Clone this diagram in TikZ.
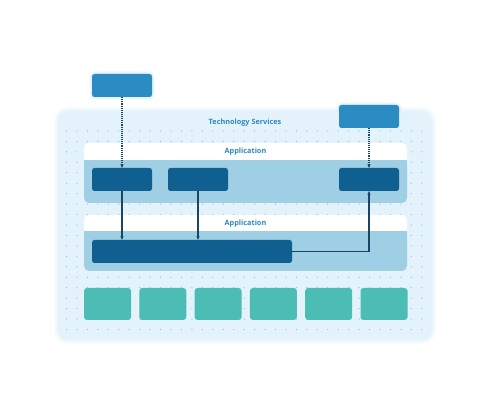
\documentclass[tikz,border=0pt]{standalone}
\usepackage{fontspec}
\setmainfont{Open Sans}
\usetikzlibrary{arrows.meta}
\definecolor{panelbg}{HTML}{E4F3FB}
\definecolor{dotc}{HTML}{7EC4E8}
\definecolor{labelc}{HTML}{2A8BC0}
\definecolor{topbox}{HTML}{2A8CC0}
\definecolor{appbody}{HTML}{9ECFE4}
\definecolor{inner}{HTML}{0F5F90}
\definecolor{teal}{HTML}{4BBDB5}
\definecolor{wire}{HTML}{1B4566}
\definecolor{glow}{HTML}{9FD3EE}
\tikzset{
  panel/.style={fill=panelbg, rounded corners=8pt},
  boxtop/.style={fill=topbox, rounded corners=2.5pt},
  boxin/.style={fill=inner, rounded corners=2.5pt},
  tealbox/.style={fill=teal, rounded corners=3pt},
  hdr/.style={fill=white, rounded corners=5pt},
  body/.style={fill=appbody, rounded corners=5pt},
  lbl/.style={text=labelc, font=\fontsize{7.3}{8}\selectfont\bfseries, inner sep=0pt},
  wirearrow/.style={draw=wire, line width=1.1pt, -{Stealth[length=3.6pt,width=3.4pt]}},
  dotarrow/.style={wirearrow, densely dotted}
}
\begin{document}
\begin{tikzpicture}[x=1pt,y=-1pt]
\useasboundingbox (0,0) rectangle (491,419);
% soft halo round the panel and the two top boxes
\foreach \g in {1,...,6} {
  \fill[glow, opacity=0.06, rounded corners={8pt+\g pt}] ({60-\g},{113-\g}) rectangle ({430+\g},{338+\g});
  \fill[glow, opacity=0.06, rounded corners={2.5pt+0.5*\g pt}] ({92-0.5*\g},{74-0.5*\g}) rectangle ({152+0.5*\g},{97+0.5*\g});
  \fill[glow, opacity=0.06, rounded corners={2.5pt+0.5*\g pt}] ({339-0.5*\g},{105-0.5*\g}) rectangle ({399+0.5*\g},{128+0.5*\g});
}
% outer panel
\fill[panel] (60,113) rectangle (430,338);
% dot grid
\foreach \i in {0,...,34} {
  \foreach \j in {0,...,19} {
    \fill[dotc] ({66.5+10.45*\i},{131+10.45*\j}) circle (0.65pt);
  }
}
\node[lbl] (ts) at (245,123) {Technology Services};
% first application container
\fill[hdr] (84,143) rectangle (407,166);
\fill[body] (84,160) rectangle (407,203);
\fill[white] (84,155) rectangle (407,160);
\fill[appbody] (84,160) rectangle (407,165);
\node[lbl] (app1) at (245.5,152) {Application};
% second application container
\fill[hdr] (84,215) rectangle (407,238);
\fill[body] (84,231) rectangle (407,271);
\fill[white] (84,227) rectangle (407,231);
\fill[appbody] (84,231) rectangle (407,236);
\node[lbl] (app2) at (245.5,224) {Application};
% top boxes
\path[boxtop] (92,74) rectangle (152,97);
\node[inner sep=0pt, minimum width=60pt, minimum height=23pt] (t1) at (122,85.5) {};
\path[boxtop] (339,105) rectangle (399,128);
\node[inner sep=0pt, minimum width=60pt, minimum height=23pt] (t2) at (369,116.5) {};
% inner boxes
\path[boxin] (92,168) rectangle (152,191);
\node[inner sep=0pt, minimum width=60pt, minimum height=23pt] (a1) at (122,179.5) {};
\path[boxin] (168,168) rectangle (228,191);
\node[inner sep=0pt, minimum width=60pt, minimum height=23pt] (a2) at (198,179.5) {};
\path[boxin] (339,168) rectangle (399,191);
\node[inner sep=0pt, minimum width=60pt, minimum height=23pt] (a3) at (369,179.5) {};
\path[boxin] (92,240) rectangle (292,263);
\node[inner sep=0pt, minimum width=200pt, minimum height=23pt] (b1) at (192,251.5) {};
% teal boxes
\foreach \x in {84,139.3,194.6,249.9,305.2,360.5} {
  \path[tealbox] (\x,288) rectangle ({\x+47},320);
}
% connectors
\draw[dotarrow] (t1.south) -- (a1.north);
\draw[dotarrow] (t2.south) -- (a3.north);
\draw[wirearrow] (a1.south) -- (a1.south |- b1.north);
\draw[wirearrow] (a2.south) -- (a2.south |- b1.north);
\draw[wirearrow] (b1.east) -| (a3.south);
\end{tikzpicture}
\end{document}
